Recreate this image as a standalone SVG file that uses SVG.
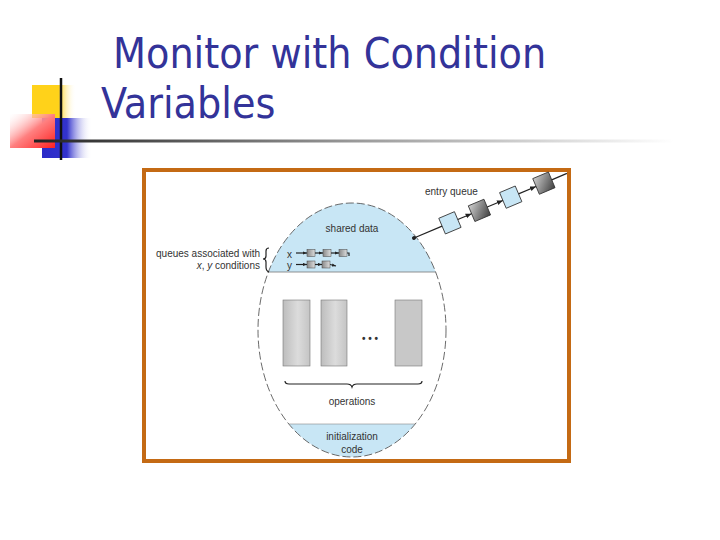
<svg xmlns="http://www.w3.org/2000/svg" width="720" height="540" viewBox="0 0 720 540">
<style>
.title{font-family:'DejaVu Sans Condensed','DejaVu Sans',sans-serif;font-stretch:condensed;font-size:42.5px;fill:#333399}
.lbl{font-family:'Liberation Sans',Arial,sans-serif;font-size:10px;fill:#333}
.ln{fill:none;stroke:#222;stroke-width:1.2}
.blue{fill:#c8e6f5}
.qb{fill:#c8e6f5;stroke:#333;stroke-width:0.8}
.qg{fill:url(#gbox);stroke:#333;stroke-width:0.8}
.op{fill:url(#gop);stroke:#777;stroke-width:0.6}
.sq{fill:url(#gsq);stroke:#444;stroke-width:0.5}
</style>
<defs>
<linearGradient id="gy" x1="0" x2="1" y1="0" y2="0"><stop offset="0" stop-color="#ffd21a"/><stop offset="0.6" stop-color="#ffd21a"/><stop offset="1" stop-color="#fff" stop-opacity="0"/></linearGradient>
<linearGradient id="gr" x1="1" y1="1" x2="0" y2="0"><stop offset="0" stop-color="#ff2020"/><stop offset="0.5" stop-color="#ff8080"/><stop offset="1" stop-color="#fff" stop-opacity="0.2"/></linearGradient>
<linearGradient id="gbl" x1="0" x2="1" y1="0" y2="0"><stop offset="0" stop-color="#2b2bc8"/><stop offset="0.5" stop-color="#3333cc"/><stop offset="1" stop-color="#fff" stop-opacity="0"/></linearGradient>
<linearGradient id="gh" x1="0" x2="1" y1="0" y2="0"><stop offset="0" stop-color="#222"/><stop offset="0.5" stop-color="#999"/><stop offset="1" stop-color="#fff"/></linearGradient>
<linearGradient id="gop" x1="0" x2="1" y1="0" y2="0"><stop offset="0" stop-color="#bdbdbd"/><stop offset="0.55" stop-color="#dcdcdc"/><stop offset="1" stop-color="#c4c4c4"/></linearGradient>
<linearGradient id="gbox" x1="0" x2="1" y1="0" y2="1"><stop offset="0" stop-color="#d0d0d0"/><stop offset="1" stop-color="#404040"/></linearGradient>
<linearGradient id="gsq" x1="0" x2="1" y1="0" y2="0"><stop offset="0" stop-color="#888"/><stop offset="1" stop-color="#ddd"/></linearGradient>
<clipPath id="ell"><ellipse cx="352" cy="330" rx="94" ry="127"/></clipPath>
<marker id="ah" viewBox="0 0 10 10" refX="10" refY="5" markerWidth="6" markerHeight="6" orient="auto" markerUnits="userSpaceOnUse"><path d="M0,1 L10,5 L0,9 z" fill="#222"/></marker>
<marker id="ahs" viewBox="0 0 10 10" refX="10" refY="5" markerWidth="4" markerHeight="4" orient="auto" markerUnits="userSpaceOnUse"><path d="M0,1 L10,5 L0,9 z" fill="#222"/></marker>
</defs>
<rect width="720" height="540" fill="#fff"/>

<g id="decoration">
<rect x="32" y="85" width="44" height="33" fill="url(#gy)"/>
<rect x="42" y="118" width="50" height="40" fill="url(#gbl)"/>
<rect x="10" y="114" width="45" height="34" fill="url(#gr)"/>
<line x1="61" y1="78" x2="61" y2="160" stroke="#111" stroke-width="2.5"/>
<rect x="34" y="139.5" width="640" height="3" fill="url(#gh)"/>
</g>

<g id="title">
<text class="title" x="113" y="68">Monitor with Condition</text>
<text class="title" x="101" y="118">Variables</text>
</g>

<g id="frame">
<rect x="144" y="170" width="425" height="291" fill="#fff" stroke="#c46a14" stroke-width="4"/>
</g>

<g id="monitor">
<g clip-path="url(#ell)">
<rect class="blue" x="250" y="200" width="210" height="72"/>
<rect class="blue" x="250" y="424" width="210" height="40"/>
</g>
<ellipse cx="352" cy="330" rx="94" ry="127" fill="none" stroke="#444" stroke-width="0.8" stroke-dasharray="8 3"/>
<line x1="268" y1="272" x2="436" y2="272" stroke="#777" stroke-width="0.8"/>
<line x1="289" y1="424" x2="415" y2="424" stroke="#888" stroke-width="0.6"/>
</g>

<g id="shared-data">
<text class="lbl" x="352" y="232" text-anchor="middle">shared data</text>
</g>

<g id="condition-queues">
<text class="lbl" x="260" y="257" text-anchor="end">queues associated with</text>
<text class="lbl" x="260" y="269" text-anchor="end"><tspan font-style="italic">x</tspan>, <tspan font-style="italic">y</tspan> conditions</text>
<path class="ln" stroke-width="0.8" d="M269,248 q-3,0 -3,3 v5 q0,3 -3,3 q3,0 3,3 v5 q0,4 3,5"/>
<text class="lbl" x="287" y="258">x</text>
<text class="lbl" x="287" y="269">y</text>
<rect class="sq" x="307" y="249.5" width="8" height="7"/>
<rect class="sq" x="323" y="249.5" width="8" height="7"/>
<rect class="sq" x="339" y="249.5" width="8" height="7"/>
<rect class="sq" x="307" y="261" width="8" height="7"/>
<rect class="sq" x="322" y="261" width="8" height="7"/>
</g>

<g id="entry-queue">
<text class="lbl" x="425" y="195">entry queue</text>
<g transform="translate(414,238) rotate(-22.9)">
<rect class="qb" x="30.5" y="-8.5" width="17" height="17"/>
<rect class="qg" x="62.5" y="-8.5" width="17" height="17"/>
<rect class="qb" x="96.5" y="-8.5" width="17" height="17"/>
<rect class="qg" x="132.5" y="-8.5" width="17" height="17"/>
</g>
</g>

<g id="operations">
<rect class="op" x="283" y="300" width="27" height="66"/>
<rect class="op" x="321" y="300" width="26" height="66"/>
<rect x="395" y="300" width="27" height="66" fill="#c8c8c8" stroke="#777" stroke-width="0.6"/>
<text class="lbl" x="370" y="342" text-anchor="middle" font-size="12" font-weight="bold">• • •</text>
<path class="ln" stroke-width="0.8" d="M285,381 q0,3 4,3 h58 q4,0 5,3 q1,-3 5,-3 h61 q4,0 4,-3"/>
<text class="lbl" x="352" y="405" text-anchor="middle">operations</text>
</g>

<g id="initialization">
<text class="lbl" x="352" y="440" text-anchor="middle">initialization</text>
<text class="lbl" x="352" y="453" text-anchor="middle">code</text>
</g>

<g id="connectors">
<g transform="translate(414,238) rotate(-22.9)">
<circle cx="0" cy="0" r="2" fill="#222"/>
<line class="ln" x1="0" y1="0" x2="30.5" y2="0"/>
<line class="ln" x1="47.5" y1="0" x2="62.5" y2="0" marker-end="url(#ah)"/>
<line class="ln" x1="79.5" y1="0" x2="96.5" y2="0" marker-end="url(#ah)"/>
<line class="ln" x1="113.5" y1="0" x2="132.5" y2="0" marker-end="url(#ah)"/>
<line class="ln" x1="149.5" y1="0" x2="166" y2="0"/>
</g>
<line class="ln" stroke-width="0.8" x1="296" y1="253" x2="307" y2="253" marker-end="url(#ahs)"/>
<line class="ln" stroke-width="0.8" x1="315" y1="253" x2="323" y2="253" marker-end="url(#ahs)"/>
<line class="ln" stroke-width="0.8" x1="331" y1="253" x2="339" y2="253" marker-end="url(#ahs)"/>
<path class="ln" stroke-width="0.6" d="M347,253 h2 v3"/>
<line class="ln" stroke-width="0.8" x1="296" y1="264.5" x2="307" y2="264.5" marker-end="url(#ahs)"/>
<line class="ln" stroke-width="0.8" x1="315" y1="264.5" x2="322" y2="264.5" marker-end="url(#ahs)"/>
<line class="ln" stroke-width="0.6" x1="330" y1="264.5" x2="336" y2="266" marker-end="url(#ahs)"/>
</g>
</svg>
